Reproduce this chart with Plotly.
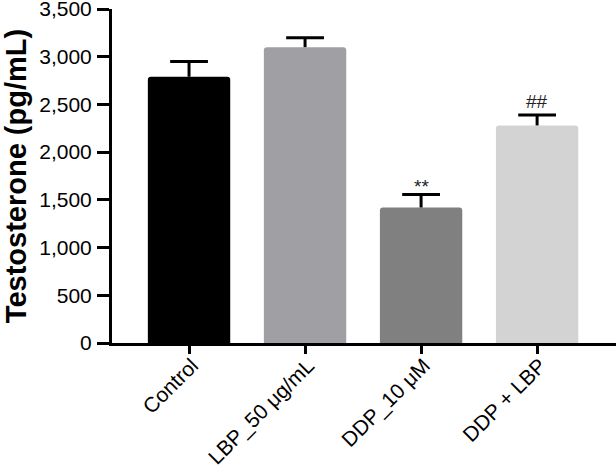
import plotly.graph_objects as go

categories = ["Control", "LBP_50 μg/mL", "DDP_10 μM", "DDP + LBP"]
values = [2790, 3100, 1420, 2280]
errors = [160, 100, 135, 110]
colors = ["#000000", "#a0a0a4", "#808080", "#d3d3d3"]
marks = ["", "", "**", "##"]
yticks = [0, 500, 1000, 1500, 2000, 2500, 3000, 3500]

tops = [v + e for v, e in zip(values, errors)]

fig = go.Figure()
fig.add_trace(go.Bar(
    x=categories, y=values,
    marker=dict(color=colors, line=dict(width=0), cornerradius=3),
    width=0.71,
    error_y=dict(type="data", array=errors, arrayminus=[0] * len(errors),
                 symmetric=False, color="black", thickness=3, width=0),
    hoverinfo="skip",
))
# error-bar caps (top only)
fig.add_trace(go.Scatter(
    x=categories, y=tops, mode="markers",
    marker=dict(symbol="line-ew", size=27, color="black",
                line=dict(width=3, color="black")),
    hoverinfo="skip",
))

for c, t, m in zip(categories, tops, marks):
    if m:
        fig.add_annotation(x=c, y=t, text=m, showarrow=False,
                           yanchor="bottom", yshift=-4 if "*" in m else 1,
                           font=dict(family="Liberation Sans, Arial", size=19, color="#222"))

fig.update_layout(
    width=616, height=469,
    margin=dict(l=112, r=0, t=9, b=126),
    plot_bgcolor="white", paper_bgcolor="white",
    showlegend=False,
    font=dict(family="Liberation Sans, Arial, Helvetica", color="black"),
    xaxis=dict(
        range=[-0.664, 3.68],
        showline=True, linecolor="black", linewidth=3,
        ticks="outside", ticklen=8, tickwidth=3, tickcolor="black",
        tickangle=-45, tickfont=dict(size=21),
        ticklabelstandoff=-9, ticklabelshift=3,
        showgrid=False, zeroline=False, automargin=False,
        ticklabeloverflow="allow",
    ),
    yaxis=dict(
        range=[0, 3500],
        tickvals=yticks, ticktext=[f"{t:,}" for t in yticks],
        showline=True, linecolor="black", linewidth=3,
        ticks="outside", ticklen=12, tickwidth=3, tickcolor="black",
        tickfont=dict(size=21), ticklabelstandoff=1,
        showgrid=False, zeroline=False, automargin=False,
        ticklabeloverflow="allow",
        title=dict(text="<b>Testosterone (pg/mL)</b>", font=dict(size=29), standoff=8),
    ),
)

fig.write_html("out.html", config={"displayModeBar": False},
               post_script="document.body.style.margin='0';")
